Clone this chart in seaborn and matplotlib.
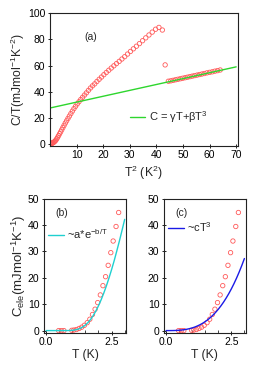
import matplotlib
matplotlib.use("Agg")
import matplotlib.pyplot as plt
import seaborn as sns
import numpy as np
import pandas as pd
from matplotlib.ticker import MultipleLocator

# ---------------- data ----------------
# panel (a): C/T vs T^2
T_low = [0.3, 0.4, 0.5, 0.6, 0.7, 0.8, 0.9, 1.0, 1.1, 1.2, 1.3, 1.4, 1.5, 1.6, 1.7,
         1.8, 1.9, 2.0, 2.1, 2.2, 2.3, 2.4, 2.5, 2.6, 2.7, 2.8, 2.9, 3.0, 3.1, 3.2,
         3.3, 3.4, 3.5, 3.6, 3.7, 3.8, 3.9, 4.0, 4.1, 4.2, 4.3, 4.4, 4.5, 4.6, 4.7,
         4.8, 4.9, 5.0, 5.1, 5.2, 5.3, 5.4, 5.5, 5.6, 5.7, 5.8, 5.9, 6.0, 6.1, 6.2,
         6.3, 6.4, 6.5, 6.58]
CT_low = [0.2, 0.2, 0.3, 0.3, 0.4, 0.5, 0.6, 0.8, 1.0, 1.3, 1.8, 2.3, 3.0, 4.0, 5.2,
          6.4, 7.8, 9.2, 10.8, 12.5, 14.2, 16.0, 17.7, 19.5, 21.3, 23.2, 25.1, 27.0, 28.8, 30.6,
          32.3, 34.0, 35.7, 37.4, 39.1, 41.0, 42.8, 44.5, 46.0, 47.8, 49.5, 51.2, 53.0, 54.7, 56.4,
          58.1, 59.8, 61.5, 63.2, 65.0, 66.8, 68.8, 70.8, 72.8, 74.8, 76.8, 79.0, 81.2, 83.4, 85.6,
          87.8, 89.2, 87.2, 60.5]
T2_high = [44.5, 45.4, 46.3, 47.2, 48.1, 49.0, 49.9, 50.8, 51.7, 52.6, 53.5, 54.4, 55.3,
           56.2, 57.1, 58.0, 59.0, 60.0, 61.0, 62.0, 63.0, 64.0]
CT_high = [48.0, 48.3, 48.7, 49.1, 49.5, 49.9, 50.3, 50.7, 51.1, 51.5, 51.9, 52.3, 52.7,
           53.1, 53.5, 53.9, 54.4, 54.8, 55.2, 55.7, 56.1, 56.6]
fit_a_x = [0.0, 70.0]
fit_a_y = [27.5, 59.0]

# panels (b), (c): C_ele vs T
T_ele = [0.48, 0.58, 0.68, 0.98, 1.06, 1.16, 1.26, 1.36, 1.46, 1.57, 1.67, 1.77, 1.87,
         1.97, 2.07, 2.17, 2.27, 2.37, 2.47, 2.56, 2.67, 2.77]
C_ele = [0.0, 0.0, 0.0, 0.1, 0.2, 0.4, 0.8, 1.3, 2.0, 3.0, 4.3, 6.1, 8.1,
         10.6, 13.5, 17.0, 20.4, 24.7, 29.5, 33.9, 39.4, 44.7]
T_fit = [0.0, 0.1, 0.2, 0.3, 0.4, 0.5, 0.6, 0.7, 0.8, 0.9, 1.0, 1.1, 1.2, 1.3, 1.4, 1.5,
         1.6, 1.7, 1.8, 1.9, 2.0, 2.1, 2.2, 2.3, 2.4, 2.5, 2.6, 2.7, 2.8, 2.9, 3.0]
C_exp_fit = [0.0, 0.0, 0.0, 0.0, 0.0, 0.0, 0.0, 0.0, 0.01, 0.04, 0.10, 0.24, 0.47, 0.83,
             1.37, 2.10, 3.05, 4.24, 5.70, 7.42, 9.40, 11.64, 14.14, 16.89, 19.89, 23.1,
             26.5, 30.2, 34.0, 38.0, 42.1]
C_cub_fit = [0.0, 0.001, 0.008, 0.027, 0.065, 0.126, 0.218, 0.346, 0.517, 0.736, 1.01,
             1.34, 1.75, 2.22, 2.77, 3.41, 4.14, 4.96, 5.89, 6.93, 8.08, 9.35, 10.75,
             12.29, 13.96, 15.78, 17.75, 19.88, 22.17, 24.63, 27.27]

df_low = pd.DataFrame({"T2": np.array(T_low) ** 2, "CT": CT_low})
df_high = pd.DataFrame({"T2": T2_high, "CT": CT_high})
df_fa = pd.DataFrame({"x": fit_a_x, "y": fit_a_y})
df_ele = pd.DataFrame({"T": T_ele, "C": C_ele})
df_fit = pd.DataFrame({"T": T_fit, "exp": C_exp_fit, "cub": C_cub_fit})

# ---------------- style ----------------
sns.set_style("ticks")
plt.rcParams["font.family"] = ["Liberation Sans", "DejaVu Sans"]
plt.rcParams["mathtext.fontset"] = "custom"
plt.rcParams["mathtext.rm"] = "Liberation Sans"
plt.rcParams["mathtext.it"] = "Liberation Sans"
plt.rcParams["axes.linewidth"] = 0.8

RED = "#ff5a5a"
GREEN = "#2ed62e"
CYAN = "#1fd0d0"
BLUE = "#1a1ae6"
TICK_FS = 7.5
LAB_FS = 8.7
LEG_FS = 8

W, H = 274, 367
fig = plt.figure(figsize=(W / 100, H / 100), dpi=100)


def frac(l, r, t, b):
    return [l / W, 1 - b / H, (r - l) / W, (b - t) / H]


def style_ax(ax):
    for s in ax.spines.values():
        s.set_visible(True)
        s.set_color("#222222")
    ax.tick_params(direction="inout", length=3.5, width=0.7, labelsize=TICK_FS,
                   pad=1.5, colors="#222222", labelcolor="black")
    ax.tick_params(which="minor", direction="in", length=2, width=0.6)


mk = dict(marker="o", facecolors="none", edgecolor=RED, linewidth=0.6, s=10)

# ---------- panel (a) ----------
axa = fig.add_axes(frac(50, 237.5, 13.3, 145.5))
sns.scatterplot(data=df_low, x="T2", y="CT", ax=axa, **mk)
sns.scatterplot(data=df_high, x="T2", y="CT", ax=axa, **mk)
sns.lineplot(data=df_fa, x="x", y="y", ax=axa, color=GREEN, linewidth=1.0,
             label=r"C = γT+βT$^3$")
axa.set_xlim(0, 70.5)
axa.set_ylim(-1.2, 100)
axa.set_xticks([10, 20, 30, 40, 50, 60, 70])
axa.set_yticks([0, 20, 40, 60, 80, 100])
axa.set_xlabel(r"T$^2$ (K$^2$)", fontsize=LAB_FS, labelpad=3)
axa.set_ylabel(r"C/T(mJmol$^{-1}$K$^{-2}$)", fontsize=LAB_FS, labelpad=1)
axa.text(15.5, 82, "(a)", fontsize=TICK_FS, ha="center", va="center")
axa.legend(loc="center left", bbox_to_anchor=(0.39, 0.215), frameon=False,
           fontsize=LEG_FS, handlelength=1.4, handletextpad=0.3, borderpad=0.1)
style_ax(axa)

# ---------- panel (b) ----------
axb = fig.add_axes(frac(44, 126, 198.5, 332.7))
sns.scatterplot(data=df_ele, x="T", y="C", ax=axb, **mk)
sns.lineplot(data=df_fit, x="T", y="exp", ax=axb, color=CYAN, linewidth=1.0,
             label=r"~a*e$^{-b/T}$")
axb.set_xlim(-0.08, 3.05)
axb.set_ylim(-0.8, 50)
axb.set_xticks([0.0, 2.5])
axb.set_xticklabels(["0.0", "2.5"])
axb.xaxis.set_minor_locator(MultipleLocator(0.5))
axb.set_yticks([0, 10, 20, 30, 40, 50])
axb.set_xlabel("T (K)", fontsize=LAB_FS, labelpad=1)
axb.set_ylabel(r"C$_{ele}$(mJmol$^{-1}$K$^{-1}$)", fontsize=9.5, labelpad=0)
axb.text(0.6, 44.5, "(b)", fontsize=TICK_FS, ha="center", va="center")
axb.legend(loc="center left", bbox_to_anchor=(-0.03, 0.735), frameon=False,
           fontsize=LEG_FS, handlelength=1.4, handletextpad=0.3, borderpad=0.1)
style_ax(axb)

# ---------- panel (c) ----------
axc = fig.add_axes(frac(164, 245.7, 198.5, 332.7))
sns.scatterplot(data=df_ele, x="T", y="C", ax=axc, **mk)
sns.lineplot(data=df_fit, x="T", y="cub", ax=axc, color=BLUE, linewidth=1.0,
             label=r"~cT$^3$")
axc.set_xlim(-0.08, 3.05)
axc.set_ylim(-0.8, 50)
axc.set_xticks([0.0, 2.5])
axc.set_xticklabels(["0.0", "2.5"])
axc.xaxis.set_minor_locator(MultipleLocator(0.5))
axc.set_yticks([0, 10, 20, 30, 40, 50])
axc.set_xlabel("T (K)", fontsize=LAB_FS, labelpad=1)
axc.set_ylabel("")
axc.text(0.6, 44.5, "(c)", fontsize=TICK_FS, ha="center", va="center")
axc.legend(loc="center left", bbox_to_anchor=(-0.03, 0.79), frameon=False,
           fontsize=LEG_FS, handlelength=1.4, handletextpad=0.3, borderpad=0.1)
style_ax(axc)

fig.savefig("out.png", dpi=100)
